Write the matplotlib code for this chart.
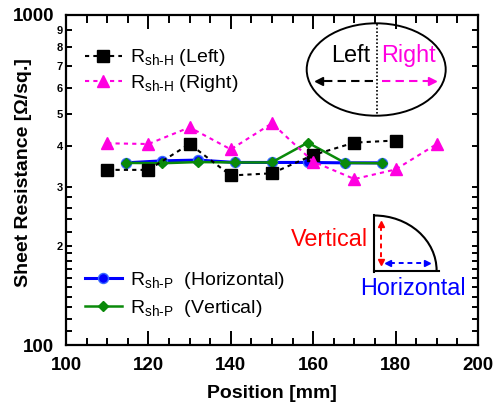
import matplotlib
matplotlib.use('Agg')
import matplotlib.pyplot as plt
from matplotlib.patches import Ellipse, Arc
from matplotlib.lines import Line2D
from matplotlib.ticker import FixedLocator, FixedFormatter

plt.rcParams['font.family'] = ['Liberation Sans', 'DejaVu Sans']
plt.rcParams['mathtext.fontset'] = 'custom'
plt.rcParams['mathtext.rm'] = 'Liberation Sans'
plt.rcParams['mathtext.it'] = 'Liberation Sans:italic'
plt.rcParams['mathtext.bf'] = 'Liberation Sans:bold'

# ---------------- data ----------------
pos_left = [110, 120, 130, 140, 150, 160, 170, 180]
rsh_h_left = [339, 339, 406, 326, 331, 376, 410, 416]

pos_right = [110, 120, 130, 140, 150, 160, 170, 180, 190]
rsh_h_right = [408, 406, 456, 391, 469, 359, 318, 340, 406]

pos_p = [114.5, 123.2, 132.1, 141.0, 149.9, 158.7, 167.7, 176.6]
rsh_p_horizontal = [356, 361, 363, 357, 357, 357, 356, 356]
rsh_p_vertical = [356, 355, 358, 357, 357, 410, 356, 355]

label_left = r'R$_{\text{sh-H}}$ (Left)'
label_right = r'R$_{\text{sh-H}}$ (Right)'
label_horiz = r'R$_{\text{sh-P}}$  (Horizontal)'
label_vert = r'R$_{\text{sh-P}}$  (Vertical)'

x_major_ticks = [100, 120, 140, 160, 180, 200]
x_major_labels = ['100', '120', '140', '160', '180', '200']
x_minor_ticks = [105, 110, 115, 125, 130, 135, 145, 150, 155, 165, 170, 175, 185, 190, 195]
y_major_ticks = [100, 1000]
y_major_labels = ['100', '1000']
y_minor_ticks = [110, 120, 130, 140, 150, 160, 170, 180, 190,
                 200, 220, 240, 260, 280,
                 300, 400, 500, 600, 700, 800, 900]
y_minor_labels = ['', '', '', '', '', '', '', '', '',
                  '2', '', '', '', '',
                  '3', '4', '5', '6', '7', '8', '9']

MAGENTA = '#ff00e0'
BLUE = '#0000ff'
GREEN = '#0a8a0a'
RED = '#ff0000'

W, H = 498, 404
fig = plt.figure(figsize=(W / 100, H / 100), dpi=100)
AX_L, AX_R, AX_T, AX_B = 66, 478, 14.7, 345
ax = fig.add_axes([AX_L / W, 1 - AX_B / H, (AX_R - AX_L) / W, (AX_B - AX_T) / H])


def F(x, y):
    return (x / W, 1 - y / H)


def AXC(x, y):
    return ((x - AX_L) / (AX_R - AX_L), (AX_B - y) / (AX_B - AX_T))


h_h = ax.plot(pos_p, rsh_p_horizontal, '-', color=BLUE, lw=2.2, marker='o', ms=7.2,
              mfc=BLUE, mec='#3a6cff', mew=1.0, label=label_horiz)[0]
h_v = ax.plot(pos_p, rsh_p_vertical, '-', color=GREEN, lw=1.8, marker='D', ms=5.6,
              mfc=GREEN, mec=GREEN, label=label_vert)[0]
h_l = ax.plot(pos_left, rsh_h_left, color='black', lw=1.5, ls=(0, (2, 2)), marker='s',
              ms=8.4, mfc='black', mec='black', label=label_left)[0]
h_r = ax.plot(pos_right, rsh_h_right, color=MAGENTA, lw=1.5, ls=(0, (2, 2)), marker='^',
              ms=8.2, mfc=MAGENTA, mec=MAGENTA, label=label_right)[0]

ax.set_xlim(100, 200)
ax.set_yscale('log')
ax.set_ylim(100, 1000)

ax.xaxis.set_major_locator(FixedLocator(x_major_ticks))
ax.xaxis.set_major_formatter(FixedFormatter(x_major_labels))
ax.xaxis.set_minor_locator(FixedLocator(x_minor_ticks))
ax.yaxis.set_major_locator(FixedLocator(y_major_ticks))
ax.yaxis.set_major_formatter(FixedFormatter(y_major_labels))
ax.yaxis.set_minor_locator(FixedLocator(y_minor_ticks))
ax.yaxis.set_minor_formatter(FixedFormatter(y_minor_labels))

for s in ax.spines.values():
    s.set_linewidth(1.6)

ax.tick_params(which='both', direction='in', top=True, right=True, width=1.4)
ax.tick_params(axis='x', which='major', length=10.4, labelsize=13.5, pad=8.5)
ax.tick_params(axis='x', which='minor', length=5.4)
ax.tick_params(axis='y', which='major', length=10.4, labelsize=13.5, pad=8.5)
ax.tick_params(axis='y', which='minor', length=4.3, labelsize=8, pad=2)
for lab in ax.get_xticklabels() + ax.get_yticklabels() + ax.get_yticklabels(minor=True):
    lab.set_fontweight('bold')

fig.text(24 / W, 1 - 172.5 / H, 'Sheet Resistance [Ω/sq.]', rotation=90,
         ha='center', va='center', fontsize=14, fontweight='bold')
fig.text(272 / W, 1 - 398.3 / H, 'Position [mm]', ha='center', va='baseline',
         fontsize=14, fontweight='bold')

# legends
leg1 = ax.legend(handles=[h_l, h_r], loc='center left', bbox_to_anchor=AXC(85, 70.5),
                 frameon=False, fontsize=14, handlelength=1.9, handletextpad=0.4,
                 labelspacing=0.22, borderpad=0, borderaxespad=0, numpoints=1)
ax.add_artist(leg1)
leg2 = ax.legend(handles=[h_h, h_v], loc='center left', bbox_to_anchor=AXC(85, 294.5),
                 frameon=False, fontsize=14, handlelength=1.9, handletextpad=0.4,
                 labelspacing=0.38, borderpad=0, borderaxespad=0, numpoints=1)

# ---------------- inset: ellipse Left / Right ----------------
tf = fig.transFigure
fig.add_artist(Ellipse(F(376.2, 69.5), 139 / W, 92.4 / H, transform=tf, fill=False,
                       ec='black', lw=1.4))
fig.add_artist(Line2D([F(376.6, 0)[0]] * 2, [F(0, 23.5)[1], F(0, 115.5)[1]], transform=tf,
                      color='black', lw=1.2, ls=(0, (1, 1.2))))
fig.text(*F(370, 61.7), 'Left', ha='right', va='baseline', fontsize=16.8, color='black')
fig.text(*F(381.5, 61.7), 'Right', ha='left', va='baseline', fontsize=16.8, color=MAGENTA)
# black arrow (left)
fig.add_artist(Line2D([F(373, 0)[0], F(321, 0)[0]], [F(0, 81)[1]] * 2, transform=tf,
                      color='black', lw=1.5, ls=(0, (4, 2.5))))
fig.add_artist(Line2D([F(318.5, 0)[0]], [F(0, 81)[1]], transform=tf, color='black',
                      marker='<', ms=5.5, ls='none'))
# magenta arrow (right)
fig.add_artist(Line2D([F(382, 0)[0], F(430, 0)[0]], [F(0, 81)[1]] * 2, transform=tf,
                      color=MAGENTA, lw=1.5, ls=(0, (4, 2.5))))
fig.add_artist(Line2D([F(431.5, 0)[0]], [F(0, 81)[1]], transform=tf, color=MAGENTA,
                      marker='>', ms=5.5, ls='none'))

# ---------------- inset: quarter circle ----------------
fig.add_artist(Line2D([F(374.3, 0)[0]] * 2, [F(0, 215)[1], F(0, 271.5)[1]], transform=tf,
                      color='black', lw=1.5))
fig.add_artist(Line2D([F(373.5, 0)[0], F(438.5, 0)[0]], [F(0, 270.5)[1]] * 2, transform=tf,
                      color='black', lw=1.5))
fig.add_artist(Arc(F(374.3, 270.5), 2 * 62.3 / W, 2 * 55 / H, theta1=0, theta2=90,
                   transform=tf, color='black', lw=1.5))
# red vertical double arrow
fig.add_artist(Line2D([F(381, 0)[0]] * 2, [F(0, 226)[1], F(0, 260)[1]], transform=tf,
                      color=RED, lw=1.4, ls=(0, (2.5, 2))))
fig.add_artist(Line2D([F(381, 0)[0]], [F(0, 224)[1]], transform=tf, color=RED,
                      marker='^', ms=5, ls='none'))
fig.add_artist(Line2D([F(381, 0)[0]], [F(0, 262)[1]], transform=tf, color=RED,
                      marker='v', ms=5, ls='none'))
# blue horizontal double arrow
fig.add_artist(Line2D([F(390, 0)[0], F(425, 0)[0]], [F(0, 262.7)[1]] * 2, transform=tf,
                      color=BLUE, lw=1.4, ls=(0, (2.5, 2))))
fig.add_artist(Line2D([F(388, 0)[0]], [F(0, 262.7)[1]], transform=tf, color=BLUE,
                      marker='<', ms=5, ls='none'))
fig.add_artist(Line2D([F(427, 0)[0]], [F(0, 262.7)[1]], transform=tf, color=BLUE,
                      marker='>', ms=5, ls='none'))
fig.text(*F(368.3, 246), 'Vertical', ha='right', va='baseline', fontsize=16.8, color=RED)
fig.text(*F(360, 295), 'Horizontal', ha='left', va='baseline', fontsize=16.8, color=BLUE)

fig.savefig('out.png', dpi=100)
